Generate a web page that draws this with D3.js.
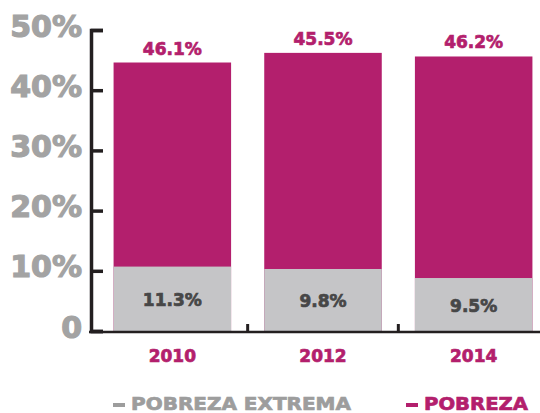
<!DOCTYPE html>
<html>
<head>
<meta charset="utf-8">
<script src="https://cdn.jsdelivr.net/npm/d3@7"></script>
<style>
  html, body { margin: 0; padding: 0; background: #fff; }
  svg { display: block; font-family: "DejaVu Sans", sans-serif; font-weight: 700; }
  svg text { font-family: "DejaVu Sans", sans-serif; font-weight: 700; paint-order: stroke; }
</style>
</head>
<body>
<svg id="chart" width="540" height="413"></svg>
<script>
const years = ['2010', '2012', '2014'];
// bar heights as drawn in the picture (percent)
const extremaBar = [10.7, 10.3, 8.8];
const pobrezaBar = [44.6, 46.2, 45.6];
// value labels printed on the picture
const extremaLabels = ['11.3%', '9.8%', '9.5%'];
const pobrezaLabels = ['46.1%', '45.5%', '46.2%'];
const yTicks = [0, 10, 20, 30, 40, 50];
const legendLabels = ['POBREZA EXTREMA', 'POBREZA'];

const magenta = '#b31f6d';
const barGrey = '#c5c5c7';
const axisColor = '#231f20';

const svg = d3.select('#chart');

const y = d3.scaleLinear().domain([0, 50]).range([331, 30]);
const x = d3.scaleBand().domain(years).range([97, 549]).paddingInner(0.22).paddingOuter(0.11);

const data = years.map((yr, i) => ({
  year: yr,
  extrema: extremaBar[i],
  pobreza: pobrezaBar[i],
  extremaLabel: extremaLabels[i],
  pobrezaLabel: pobrezaLabels[i]
}));

// bars
const bars = svg.append('g');
bars.selectAll('rect.pob')
  .data(data)
  .enter()
  .append('rect')
  .attr('class', 'pob')
  .attr('x', d => x(d.year))
  .attr('y', d => y(d.pobreza))
  .attr('width', x.bandwidth())
  .attr('height', d => y(0) - y(d.pobreza))
  .attr('fill', magenta);

bars.selectAll('rect.ext')
  .data(data)
  .enter()
  .append('rect')
  .attr('class', 'ext')
  .attr('x', d => x(d.year))
  .attr('y', d => y(d.extrema))
  .attr('width', x.bandwidth())
  .attr('height', d => y(0) - y(d.extrema))
  .attr('fill', barGrey);

// labels
svg.append('g').selectAll('text')
  .data(data)
  .enter()
  .append('text')
  .attr('x', d => x(d.year) + x.bandwidth() / 2)
  .attr('y', d => y(d.pobreza) - 8)
  .attr('text-anchor', 'middle')
  .attr('fill', magenta)
  .attr('stroke', magenta)
  .attr('stroke-width', 0.7)
  .style('font-size', '17px')
  .text(d => d.pobrezaLabel);

svg.append('g').selectAll('text')
  .data(data)
  .enter()
  .append('text')
  .attr('x', d => x(d.year) + x.bandwidth() / 2)
  .attr('y', d => (y(d.extrema) + y(0)) / 2 + 7)
  .attr('text-anchor', 'middle')
  .attr('fill', '#474747')
  .attr('stroke', '#474747')
  .attr('stroke-width', 0.7)
  .style('font-size', '17px')
  .text(d => d.extremaLabel);

// y axis
const yAxis = svg.append('g')
  .attr('transform', 'translate(91,0)')
  .call(d3.axisLeft(y).tickValues(yTicks).tickSize(-12).tickPadding(9)
    .tickFormat(d => d === 0 ? '0' : d + '%'));
yAxis.select('.domain').attr('stroke', axisColor).attr('stroke-width', 3.5);
yAxis.selectAll('.tick line').attr('stroke', axisColor).attr('stroke-width', 3.5);
yAxis.selectAll('.tick text')
  .attr('fill', '#a3a3a3')
  .attr('stroke', '#a3a3a3')
  .attr('stroke-width', 1.2)
  .attr('dy', '0.2em')
  .style('font-size', '30px');

// x baseline with separators between bars
svg.append('line')
  .attr('x1', 89).attr('x2', 540)
  .attr('y1', y(0) + 1).attr('y2', y(0) + 1)
  .attr('stroke', axisColor).attr('stroke-width', 2.5);

const half = x.step() * x.paddingInner() / 2;
svg.append('g').selectAll('line')
  .data(years.slice(1))
  .enter()
  .append('line')
  .attr('x1', d => x(d) - half)
  .attr('x2', d => x(d) - half)
  .attr('y1', y(0) - 7)
  .attr('y2', y(0) + 1)
  .attr('stroke', axisColor)
  .attr('stroke-width', 3);

// x labels
const xAxis = svg.append('g')
  .attr('transform', `translate(0,${y(0)})`)
  .call(d3.axisBottom(x).tickSize(0).tickPadding(19));
xAxis.select('.domain').remove();
xAxis.selectAll('.tick text')
  .attr('fill', magenta)
  .attr('stroke', magenta)
  .attr('stroke-width', 0.7)
  .style('font-size', '17px');

// legend
const legend = [
  { label: legendLabels[0], color: '#9d9d9d', x: 113, len: 220 },
  { label: legendLabels[1], color: magenta, x: 406, len: 104 }
];
const lg = svg.append('g').selectAll('g')
  .data(legend)
  .enter()
  .append('g')
  .attr('transform', d => `translate(${d.x},0)`);
lg.append('rect')
  .attr('x', 0).attr('y', 403)
  .attr('width', 12).attr('height', 4)
  .attr('fill', d => d.color);
lg.append('text')
  .attr('x', 18).attr('y', 410)
  .attr('fill', d => d.color)
  .attr('stroke', d => d.color)
  .attr('stroke-width', 0.7)
  .attr('textLength', d => d.len)
  .attr('lengthAdjust', 'spacingAndGlyphs')
  .style('font-size', '18px')
  .text(d => d.label);
</script>
</body>
</html>
